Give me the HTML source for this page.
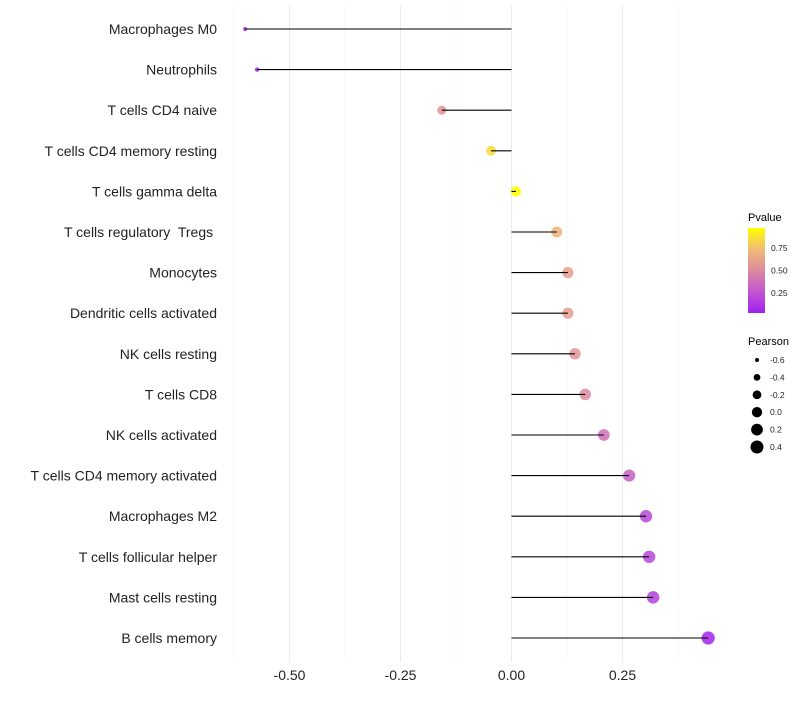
<!DOCTYPE html>
<html><head><meta charset="utf-8"><style>
body{margin:0;background:#fff;font-family:"Liberation Sans",sans-serif}
svg text{font-family:"Liberation Sans",sans-serif;white-space:pre}
</style></head><body>
<svg id="chart" width="800" height="700" xmlns="http://www.w3.org/2000/svg">
<g id="grid"></g>
<g id="yaxis"></g>
<g id="xaxis"></g>
<g id="marks"></g>
<g id="legend">
<defs><linearGradient id="pg" x1="0" y1="1" x2="0" y2="0">
<stop offset="0" stop-color="#a020f0"/><stop offset="0.25" stop-color="#c355cf"/><stop offset="0.5" stop-color="#dc8aa0"/><stop offset="0.75" stop-color="#f0bb75"/><stop offset="1" stop-color="#ffff00"/></linearGradient></defs>
<text x="748" y="221" font-size="11">Pvalue</text>
<rect x="748" y="228" width="17" height="85" fill="url(#pg)"/>
</g>
</svg>
<script>
const categories=["Macrophages M0","Neutrophils","T cells CD4 naive","T cells CD4 memory resting","T cells gamma delta","T cells regulatory  Tregs ","Monocytes","Dendritic cells activated","NK cells resting","T cells CD8","NK cells activated","T cells CD4 memory activated","Macrophages M2","T cells follicular helper","Mast cells resting","B cells memory"];
const pearson=[-0.600,-0.573,-0.157,-0.046,0.010,0.102,0.127,0.127,0.143,0.166,0.208,0.265,0.303,0.310,0.319,0.443];
const pvalue=[0.02,0.03,0.55,0.85,0.97,0.70,0.60,0.60,0.55,0.50,0.38,0.30,0.20,0.20,0.17,0.05];
const xTicks=[-0.5,-0.25,0,0.25];
const xTickLabels=["-0.50","-0.25","0.00","0.25"];
const xMinor=[-0.625,-0.375,-0.125,0.125,0.375];
const pTicks=[0.25,0.5,0.75];
const pTickLabels=["0.25","0.50","0.75"];
const sizeBreaks=[-0.6,-0.4,-0.2,0,0.2,0.4];
const sizeLabels=["-0.6","-0.4","-0.2","0.0","0.2","0.4"];

const NS="http://www.w3.org/2000/svg";
const X=v=>511.5+v*444;
const Y=i=>29+i*40.6;
const R=v=>Math.sqrt(Math.max(1,4+(v+0.6)*38));
const stops=[[160,32,240],[195,85,207],[220,138,160],[240,187,117],[255,255,0]];
function col(p){p=Math.max(0,Math.min(1,(p-0.03)/0.94));const t=p*4,i=Math.min(3,Math.floor(t)),f=t-i;const a=stops[i],b=stops[i+1];return `rgb(${a.map((c,k)=>Math.round(c+(b[k]-c)*f)).join(',')})`;}
function mk(tag,at,parent){const e=document.createElementNS(NS,tag);for(const k in at)e.setAttribute(k,at[k]);parent.appendChild(e);return e;}
const grid=document.getElementById('grid'),yax=document.getElementById('yaxis'),xax=document.getElementById('xaxis'),marks=document.getElementById('marks'),leg=document.getElementById('legend');
xMinor.forEach(v=>{const l=mk('line',{x1:X(v),x2:X(v),y1:5,y2:662,stroke:'#f3f3f3','stroke-width':0.6},grid);

});
xTicks.forEach((v,i)=>{const l=mk('line',{x1:X(v),x2:X(v),y1:5,y2:662,stroke:'#ebebeb','stroke-width':1.1},grid);


const t=mk('text',{x:X(v),y:680,'font-size':14,'text-anchor':'middle',fill:'#222'},xax);t.textContent=xTickLabels[i];

});
categories.forEach((c,i)=>{const t=mk('text',{x:217,y:Y(i)+5,'font-size':14,'text-anchor':'end',fill:'#222','xml:space':'preserve'},yax);t.textContent=c;


const p=mk('circle',{cx:X(pearson[i]),cy:Y(i),r:R(pearson[i]),fill:col(pvalue[i]),'fill-opacity':0.85},marks);


const s=mk('line',{x1:X(0),x2:X(pearson[i]),y1:Y(i),y2:Y(i),stroke:'#000','stroke-width':1.1},marks);

});
pTicks.forEach((v,i)=>{const y=313-(v-0.03)/0.94*85;const t=mk('text',{x:771,y:y+3,'font-size':8.5,fill:'#222'},leg);t.textContent=pTickLabels[i];

});
const pt=mk('text',{x:748,y:345,'font-size':11},leg);pt.textContent='Pearson';


sizeBreaks.forEach((v,i)=>{const y=360+i*17.4;const c=mk('circle',{cx:757,cy:y,r:R(v),fill:'#000'},leg);


const t=mk('text',{x:770,y:y+3,'font-size':8.5,fill:'#222'},leg);t.textContent=sizeLabels[i];

});
</script>
</body></html>
